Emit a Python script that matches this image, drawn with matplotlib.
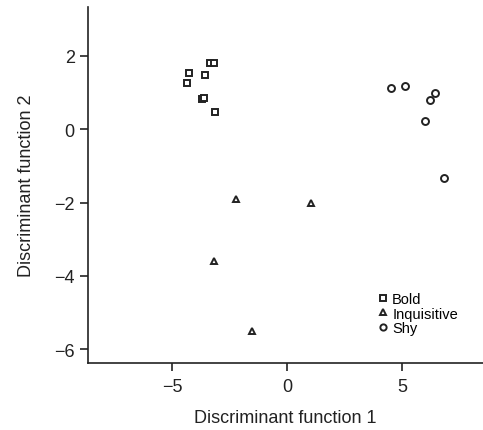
import matplotlib
matplotlib.use("Agg")
import matplotlib.pyplot as plt

plt.rcParams["font.family"] = ["Liberation Sans", "DejaVu Sans"]

# Discriminant scores per behavioural type
bold_x = [-3.35, -3.16, -4.26, -3.55, -4.36, -3.71, -3.61, -3.13]
bold_y = [1.82, 1.82, 1.54, 1.49, 1.25, 0.82, 0.86, 0.47]

inq_x = [-2.22, 1.04, -3.17, -1.51]
inq_y = [-1.91, -2.00, -3.60, -5.50]

shy_x = [4.50, 5.10, 6.40, 6.19, 6.00, 6.80]
shy_y = [1.12, 1.18, 1.00, 0.80, 0.23, -1.34]

x_ticks = [-5, 0, 5]
y_ticks = [-6, -4, -2, 0, 2]

fig = plt.figure(figsize=(4.83, 4.31), dpi=100)
ax = fig.add_axes([0.182, 0.155, 0.818, 0.826])

style = dict(linestyle="none", markerfacecolor="white", markeredgecolor="#222222",
             markeredgewidth=1.4, markersize=5)
ax.plot(bold_x, bold_y, marker="s", label="Bold", **style)
ax.plot(inq_x, inq_y, marker="^", label="Inquisitive", **style)
ax.plot(shy_x, shy_y, marker="o", label="Shy", **style)

ax.set_xlim(-8.65, 8.5)
ax.set_ylim(-6.38, 3.33)
ax.set_xticks(x_ticks)
ax.set_yticks(y_ticks)
ax.set_xticklabels(["\u2212" + str(abs(t)) if t < 0 else str(t) for t in x_ticks])
ax.set_yticklabels(["\u2212" + str(abs(t)) if t < 0 else str(t) for t in y_ticks])

for s in ["top", "right"]:
    ax.spines[s].set_visible(False)
for s in ["left", "bottom"]:
    ax.spines[s].set_linewidth(1.2)
    ax.spines[s].set_color("#222222")
ax.tick_params(direction="out", length=6, width=1.2, labelsize=13, colors="#222222")
ax.tick_params(axis="x", pad=5)

ax.set_xlabel("Discriminant function 1", fontsize=13, color="#222222", labelpad=10)
ax.set_ylabel("Discriminant function 2", fontsize=13, color="#222222", labelpad=14)

ax.legend(loc="lower right", bbox_to_anchor=(0.955, 0.058), frameon=False, fontsize=10.5,
          handlelength=0.6, handletextpad=0.35, labelspacing=0.05, markerscale=0.9,
          borderpad=0)

fig.savefig("out.png", dpi=100)
